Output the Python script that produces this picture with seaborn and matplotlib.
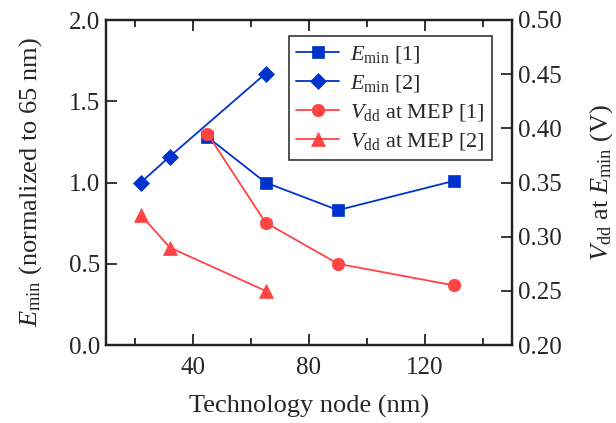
import matplotlib
matplotlib.use("Agg")
import matplotlib.pyplot as plt
import seaborn as sns
import pandas as pd
from matplotlib.ticker import MultipleLocator, FormatStrFormatter

# Data
node_e1 = [45, 65, 90, 130]
emin_1 = [1.28, 1.0, 0.83, 1.01]
node_e2 = [22, 32, 65]
emin_2 = [1.0, 1.16, 1.67]
node_v1 = [45, 65, 90, 130]
vdd_1 = [0.395, 0.313, 0.275, 0.255]
node_v2 = [22, 32, 65]
vdd_2 = [0.32, 0.29, 0.25]

labels = [r"$E_{\rm min}$ [1]", r"$E_{\rm min}$ [2]",
          r"$V_{\rm dd}$ at MEP [1]", r"$V_{\rm dd}$ at MEP [2]"]

sns.set_theme(style="ticks")
plt.rcParams["font.family"] = ["Liberation Serif", "DejaVu Serif"]
plt.rcParams["mathtext.fontset"] = "custom"
plt.rcParams["mathtext.rm"] = "Liberation Serif"
plt.rcParams["mathtext.it"] = "Liberation Serif:italic"
plt.rcParams["mathtext.bf"] = "Liberation Serif:bold"

blue = "#0033CC"
red = "#FF4444"

fig = plt.figure(figsize=(6.16, 4.23), dpi=100)
ax = fig.add_axes([106/616, 1-345/423, (512-106)/616, (345-20)/423])
ax2 = ax.twinx()

d1 = pd.DataFrame({"x": node_e1, "y": emin_1})
d2 = pd.DataFrame({"x": node_e2, "y": emin_2})
d3 = pd.DataFrame({"x": node_v1, "y": vdd_1})
d4 = pd.DataFrame({"x": node_v2, "y": vdd_2})

kw = dict(linewidth=1.3, markeredgewidth=0.5)
sns.lineplot(data=d1, x="x", y="y", ax=ax, color=blue, marker="s", markersize=9,
             markeredgecolor=blue, label=labels[0], legend=False, **kw)
sns.lineplot(data=d2, x="x", y="y", ax=ax, color=blue, marker="D", markersize=8.5,
             markeredgecolor=blue, label=labels[1], legend=False, **kw)
sns.lineplot(data=d3, x="x", y="y", ax=ax2, color=red, marker="o", markersize=9,
             markeredgecolor=red, label=labels[2], legend=False, **kw)
sns.lineplot(data=d4, x="x", y="y", ax=ax2, color=red, marker="^", markersize=10,
             markeredgecolor=red, label=labels[3], legend=False, **kw)

ax.set_xlim(10, 150)
ax.set_ylim(0, 2.0)
ax2.set_ylim(0.20, 0.50)
ax.xaxis.set_major_locator(MultipleLocator(40))
ax.xaxis.set_minor_locator(MultipleLocator(20))
ax.yaxis.set_major_locator(MultipleLocator(0.5))
ax2.yaxis.set_major_locator(MultipleLocator(0.05))
ax.yaxis.set_major_formatter(FormatStrFormatter("%.1f"))
ax2.yaxis.set_major_formatter(FormatStrFormatter("%.2f"))

tfs = 18
lfs = 19
ax.set_xlabel("Technology node (nm)", fontsize=lfs)
ax.set_ylabel(r"$E_{\rm min}$ (normalized to 65 nm)", fontsize=lfs)
ax2.set_ylabel(r"$V_{\rm dd}$ at $E_{\rm min}$ (V)", fontsize=lfs)
ax.xaxis.set_label_coords(0.5, (345 - 395) / 325)
ax.yaxis.set_label_coords((44 - 106) / 406, 0.5)
ax2.yaxis.set_label_coords((588 - 106) / 406, 0.5)

ax.tick_params(axis="x", which="both", direction="in", top=True, labelsize=tfs,
               color="#222222", pad=9)
ax.tick_params(axis="x", which="major", length=8, width=1.3)
ax.tick_params(axis="x", which="minor", length=5, width=1.3)
ax.tick_params(axis="y", direction="in", length=8, width=1.3, labelsize=tfs, right=False,
               pad=4)
ax2.tick_params(axis="y", direction="in", length=8, width=1.3, labelsize=tfs, pad=4)
for a in (ax, ax2):
    for s in a.spines.values():
        s.set_linewidth(1.6)
        s.set_color("#222222")
        s.set_visible(True)

h1, l1 = ax.get_legend_handles_labels()
h2, l2 = ax2.get_legend_handles_labels()
leg = ax2.legend(h1 + h2, l1 + l2, loc="upper right",
                 bbox_to_anchor=((492 - 106) / 406, (345 - 36) / 325),
                 borderaxespad=0, fontsize=16, frameon=True, fancybox=False,
                 edgecolor="black", handlelength=1.9, handletextpad=0.5,
                 borderpad=0.35, labelspacing=0.36)
leg.get_frame().set_linewidth(1.2)

fig.savefig("out.png", dpi=100)
